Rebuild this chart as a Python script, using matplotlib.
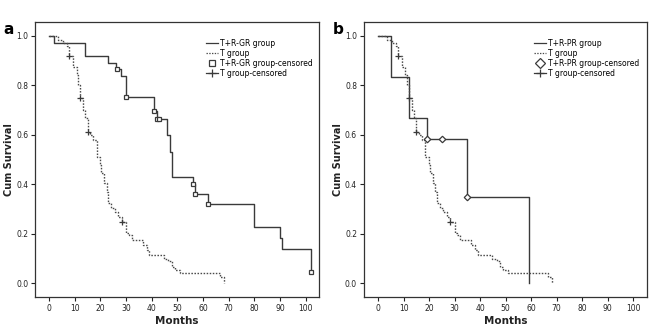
import matplotlib
matplotlib.use('Agg')
import matplotlib.pyplot as plt
from matplotlib.lines import Line2D

# T group (same in both panels)
t_time = [0, 3.5, 5.5, 7, 7.7, 9.4, 10.7, 11.3, 12, 13.3,
          14, 15, 16, 17.2, 18.5, 19.8, 20.2, 21.5, 22.4, 23,
          24.3, 25.6, 27, 28.3, 30, 31, 32.2, 36.5, 38, 39,
          44.6, 46.5, 47.8, 49.1, 51, 66.7, 68]
t_surv = [1.0, 0.983, 0.97, 0.96, 0.92, 0.876, 0.842, 0.80, 0.75, 0.70,
          0.668, 0.613, 0.60, 0.58, 0.51, 0.478, 0.445, 0.404, 0.37, 0.325,
          0.304, 0.29, 0.27, 0.25, 0.202, 0.195, 0.175, 0.155, 0.135, 0.114,
          0.10, 0.09, 0.067, 0.054, 0.04, 0.027, 0.0]
t_cens_t = [7.7, 12, 15, 28.3]
t_cens_s = [0.92, 0.75, 0.613, 0.25]

# T+R-GR group
gr_time = [0, 2, 14, 23, 26, 28, 30, 41, 42, 46, 47, 48, 56, 57, 62, 80, 90, 91, 102]
gr_surv = [1.0, 0.973, 0.92, 0.89, 0.865, 0.84, 0.752, 0.695, 0.665, 0.60,
           0.53, 0.43, 0.40, 0.363, 0.322, 0.229, 0.185, 0.139, 0.047]
gr_cens_t = [26.3, 30, 41, 42, 43, 56, 57, 62, 102]
gr_cens_s = [0.865, 0.752, 0.695, 0.665, 0.665, 0.40, 0.363, 0.322, 0.047]

# T+R-PR group
pr_time = [0, 5, 12, 19, 35, 59]
pr_surv = [1.0, 0.833, 0.667, 0.583, 0.35, 0.0]
pr_cens_t = [19, 25, 35]
pr_cens_s = [0.583, 0.583, 0.35]

x_ticks = list(range(0, 101, 10))
y_ticks = [0.0, 0.2, 0.4, 0.6, 0.8, 1.0]

solid_col = '#3a3a3a'
dot_col = '#4a4a4a'
text_col = '#222222'

fig = plt.figure(figsize=(6.5, 3.26), dpi=100)
ax_a = fig.add_axes([0.054, 0.089, 0.437, 0.844])
ax_b = fig.add_axes([0.560, 0.089, 0.435, 0.844])


def draw_panel(ax, grp_time, grp_surv, grp_ct, grp_cs, grp_name, marker, letter):
    ax.step(grp_time, grp_surv, where='post', color=solid_col, lw=1.0)
    ax.step(t_time, t_surv, where='post', color=dot_col, lw=1.0,
            linestyle=(0, (1.1, 1.1)))
    ax.plot(grp_ct, grp_cs, linestyle='none', marker=marker,
            ms=3.0 if marker == 's' else 3.3,
            mfc='white', mec=solid_col, mew=0.9)
    ax.plot(t_cens_t, t_cens_s, linestyle='none', marker='+', ms=4.5,
            mec=solid_col, mew=0.9)

    ax.set_xlim(-5.5, 105.3)
    ax.set_ylim(-0.055, 1.057)
    ax.set_xticks(x_ticks)
    ax.set_yticks(y_ticks)
    ax.set_yticklabels(['%.1f' % v for v in y_ticks])
    ax.tick_params(labelsize=5.5, length=3, width=0.8, colors=text_col, pad=2)
    for s in ax.spines.values():
        s.set_color('#333333')
        s.set_linewidth(0.9)
    ax.set_xlabel('Months', fontsize=7.5, fontweight='bold', color=text_col, labelpad=2)
    ax.set_ylabel('Cum Survival', fontsize=7, fontweight='bold', color=text_col, labelpad=1.5)

    handles = [
        Line2D([], [], color=solid_col, lw=0.9),
        Line2D([], [], color=dot_col, lw=0.9, linestyle=(0, (1.1, 1.1))),
        Line2D([], [], linestyle='none', marker=marker, ms=5, mfc='white',
               mec=solid_col, mew=0.9),
        Line2D([], [], color=solid_col, lw=0.9, marker='+', ms=6, mew=0.9),
    ]
    labels = [grp_name + ' group', 'T group', grp_name + ' group-censored',
              'T group-censored']
    ax.legend(handles, labels, loc='upper left', bbox_to_anchor=(0.59, 0.95),
              frameon=False, fontsize=5.5, handlelength=1.6, handletextpad=0.3,
              labelspacing=0.15, borderaxespad=0)

    ax.text(-0.11, 1.0, letter, transform=ax.transAxes, fontsize=11,
            fontweight='bold', ha='left', va='top', color='black')


draw_panel(ax_a, gr_time, gr_surv, gr_cens_t, gr_cens_s, 'T+R-GR', 's', 'a')
draw_panel(ax_b, pr_time, pr_surv, pr_cens_t, pr_cens_s, 'T+R-PR', 'D', 'b')

fig.savefig('out.png', dpi=100)
